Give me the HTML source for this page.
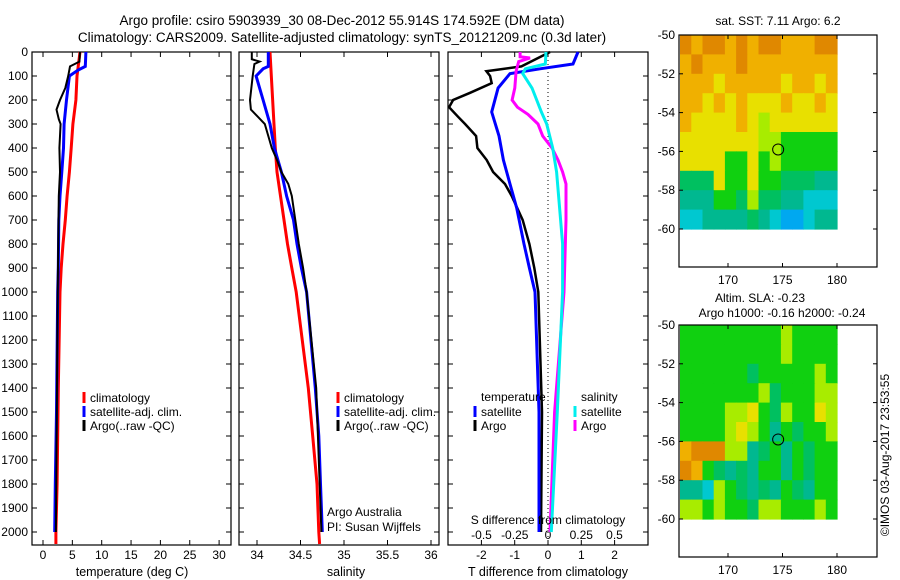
<!DOCTYPE html>
<html><head><meta charset="utf-8">
<style>
html,body{margin:0;padding:0;background:#fff;}
svg{display:block;font-family:"Liberation Sans",sans-serif;}
text{fill:#000;}
</style></head>
<body>
<svg id="fig" width="900" height="580" viewBox="0 0 900 580" xmlns="http://www.w3.org/2000/svg">
<text x="342" y="25" font-size="13.5" text-anchor="middle">Argo profile: csiro 5903939_30 08-Dec-2012 55.914S 174.592E (DM data)</text>
<text x="342" y="42" font-size="13.5" text-anchor="middle">Climatology: CARS2009. Satellite-adjusted climatology: synTS_20121209.nc (0.3d later)</text>
<g id="g"></g>
</svg>
<script>
// ---------- data ----------
const depthClim = [0,100,200,300,400,500,600,700,800,900,1000,1400,1800,2000,2050];
const tempClim  = [6.3,5.8,5.6,5.1,4.8,4.5,4.1,3.8,3.4,3.1,2.9,2.6,2.4,2.2,2.2];
const depthSat  = [0,60,75,100,200,300,400,500,600,700,900,1000,1500,1800,2000];
const tempSat   = [7.3,7.2,6.0,4.5,4.0,3.6,3.5,3.2,2.9,2.7,2.6,2.5,2.3,2.1,2.0];
const depthArgoT= [0,40,60,100,150,200,240,280,300,400,500,600,1000,2000];
const tempArgo  = [6.3,6.2,4.6,4.3,3.8,2.9,2.3,2.7,3.0,2.8,2.9,2.7,2.5,2.2];

const depthSalClim = [0,400,500,600,700,800,900,1000,1400,1600,1800,2000,2050];
const salClim      = [34.15,34.21,34.23,34.27,34.31,34.35,34.40,34.45,34.59,34.64,34.69,34.71,34.72];
const depthSalSat  = [0,60,70,100,200,300,400,500,600,700,800,900,1000,1400,1600,1800,2000];
const salSat       = [34.13,34.13,34.07,33.99,34.07,34.15,34.20,34.28,34.34,34.42,34.46,34.51,34.57,34.67,34.71,34.73,34.75];
const depthSalArgo = [0,30,40,50,100,200,240,270,300,350,400,450,500,550,600,700,800,900,1000,1400,2000];
const salArgo      = [33.94,33.94,34.03,33.97,33.95,33.92,33.93,34.01,34.09,34.13,34.17,34.23,34.28,34.36,34.40,34.44,34.48,34.53,34.57,34.68,34.74];

const depthDTArgo = [0,60,80,100,130,170,200,230,270,300,350,400,450,500,550,600,700,800,900,1000,1500,2000];
const dTArgo      = [0.06,-0.8,-1.85,-1.74,-1.69,-2.34,-2.85,-2.97,-2.7,-2.49,-2.16,-2.12,-1.84,-1.65,-1.29,-1.09,-0.76,-0.56,-0.41,-0.29,-0.18,-0.21];
const depthDTSat  = [0,50,70,90,150,250,350,450,550,650,800,900,1000,1500,2000];
const dTSat       = [0.9,0.75,-0.24,-1.14,-1.5,-1.69,-1.47,-1.34,-1.14,-0.94,-0.72,-0.56,-0.39,-0.27,-0.27];
const depthDSArgo = [0,20,25,40,80,150,200,230,260,300,350,400,450,500,550,700,1000,1500,2000];
const dSArgo      = [-0.21,-0.21,-0.135,-0.22,-0.24,-0.25,-0.27,-0.23,-0.15,-0.075,-0.04,0.03,0.075,0.11,0.135,0.135,0.12,0.05,0.015];
const depthDSSat  = [0,50,70,90,150,200,250,300,400,500,600,800,1000,1500,2000];
const dSSat       = [-0.015,-0.02,-0.17,-0.19,-0.12,-0.085,-0.05,-0.01,0.035,0.065,0.08,0.11,0.11,0.07,0.025];

const depthTicks = [0,100,200,300,400,500,600,700,800,900,1000,1100,1200,1300,1400,1500,1600,1700,1800,1900,2000];
const tempTicks = [0,5,10,15,20,25,30];
const salTicks = [34,34.5,35,35.5,36];
const salTickLabels = ["34","34.5","35","35.5","36"];
const dTTicks = [-2,-1,0,1,2];
const dSTicks = [-0.5,-0.25,0,0.25,0.5];
const dSTickLabels = ["-0.5","-0.25","0","0.25","0.5"];

const latTicks = [-50,-52,-54,-56,-58,-60];
const lonTicks = [170,175,180];
const sstRows = [
"98998989988899","89888988888888","88878888878878","88787877787787","87777876777777",
"77777776655555","77775575655555","44475575544433","33355464433222","22333343211233"];
const slaRows = [
"55555555565555","55555555565555","55555545555565","55555556455566","55556675465576",
"55556765354556","89996634535455","98543435535455","33265434354355","66565546655565"];
const floatLon = 174.6, floatLat = -55.9;
const palette = ["#1060ff","#00a8f0","#00c8d0","#00b890","#00c060","#10d010","#a8ec00","#e8e000","#f0b000","#e08800"];

// ---------- helpers ----------
const NS="http://www.w3.org/2000/svg";
const G=document.getElementById('g');
function mk(tag,attrs,parent){const e=document.createElementNS(NS,tag);for(const k in attrs)e.setAttribute(k,attrs[k]);(parent||G).appendChild(e);return e;}
function txt(x,y,s,size,anchor,parent){const t=mk('text',{x:x,y:y,'font-size':size,'text-anchor':anchor||'middle'},parent);t.textContent=s;return t;}
const yD=d=>52+d*0.24;
const xT=v=>43+v*5.87;
const xS=v=>257+(v-34)*87;
const xDT=v=>548+v*33.3;
const xDS=v=>548+v*133;

function line(xs,ds,xf,color,w,name){
  const pts=xs.map((v,i)=>xf(v).toFixed(1)+','+yD(ds[i]).toFixed(1)).join(' ');
  const p=mk('polyline',{points:pts,fill:'none',stroke:color,'stroke-width':w,'stroke-linejoin':'miter'});
  
  
}
function panel(x0,x1,name){
  const r=mk('rect',{x:x0,y:52,width:x1-x0,height:493,fill:'none',stroke:'#000','stroke-width':1.2});
  
  
  depthTicks.forEach(d=>{mk('line',{x1:x0,x2:x0+5,y1:yD(d),y2:yD(d),stroke:'#000'});mk('line',{x1:x1-5,x2:x1,y1:yD(d),y2:yD(d),stroke:'#000'});});
}
function xticks(vals,labels,xf,x0,x1,ylab){
  vals.forEach((v,i)=>{const x=xf(v);mk('line',{x1:x,x2:x,y1:52,y2:57,stroke:'#000'});mk('line',{x1:x,x2:x,y1:540,y2:545,stroke:'#000'});
    if(ylab){const t=txt(x,ylab,labels[i],12);}});
}
function legend(x,y,color,label){
  mk('line',{x1:x,x2:x,y1:y-10,y2:y+1,stroke:color,'stroke-width':3});
  const t=txt(x+6,y,label,12,'start');
  
  
}

// ---------- panel 1: temperature ----------
panel(32,231,'temperature-panel');
depthTicks.forEach(d=>{const t=txt(28,yD(d)+4,String(d),12,'end');});
xticks(tempTicks,tempTicks.map(String),xT,32,231,559);
line(tempClim,depthClim,xT,'#ff0000',3,'temp-climatology-line');
line(tempSat,depthSat,xT,'#0000ff',3,'temp-satellite-line');
line(tempArgo,depthArgoT,xT,'#000000',2,'temp-argo-line');
legend(84,402,'#ff0000','climatology');
legend(84,416,'#0000ff','satellite-adj. clim.');
legend(84,430,'#000000','Argo(..raw -QC)');
{const t=txt(132,576,'temperature (deg C)',12.5);}

// ---------- panel 2: salinity ----------
panel(239,439,'salinity-panel');
xticks(salTicks,salTickLabels,xS,239,439,559);
line(salClim,depthSalClim,xS,'#ff0000',3,'sal-climatology-line');
line(salSat,depthSalSat,xS,'#0000ff',3,'sal-satellite-line');
line(salArgo,depthSalArgo,xS,'#000000',2,'sal-argo-line');
legend(338,402,'#ff0000','climatology');
legend(338,416,'#0000ff','satellite-adj. clim.');
legend(338,430,'#000000','Argo(..raw -QC)');
{const t=txt(327,516,'Argo Australia',12,'start');}
{const t=txt(327,531,'PI: Susan Wijffels',12,'start');}
{const t=txt(346,576,'salinity',12.5);}

// ---------- panel 3: differences ----------
panel(448,648,'difference-panel');
mk('line',{x1:548,x2:548,y1:52,y2:545,stroke:'#000','stroke-dasharray':'1,3'});
xticks(dTTicks,dTTicks.map(String),xDT,448,648,559);
dSTicks.forEach((v,i)=>{const t=txt(xDS(v),539,dSTickLabels[i],12);});
line(dTArgo,depthDTArgo,xDT,'#000000',2.5,'tdiff-argo-line');
line(dTSat,depthDTSat,xDT,'#0000ff',3,'tdiff-satellite-line');
line(dSArgo,depthDSArgo,xDS,'#ff00ff',3,'sdiff-argo-line');
line(dSSat,depthDSSat,xDS,'#00eeee',3,'sdiff-satellite-line');
txt(481,401,'temperature',12,'start');
legend(475,416,'#0000ff','satellite');
legend(475,430,'#000000','Argo');
txt(581,401,'salinity',12,'start');
legend(575,416,'#00eeee','satellite');
legend(575,430,'#ff00ff','Argo');
{const t=txt(548,524,'S difference from climatology',12);}
{const t=txt(548,576,'T difference from climatology',12.5);}

// ---------- maps ----------
function map(top,rows,name){
  const L=679,R=877,B=top+232;
  const xL=lon=>728+(lon-170)*10.9;
  const yL=lat=>top+(-50-lat)*19.4;
  const lon0=165.6, dl=(180-lon0)/rows[0].length;
  rows.forEach((row,ri)=>{
    for(let ci=0;ci<row.length;ci++){
      const x=xL(lon0+ci*dl), y=yL(-50-ri);
      const c=mk('rect',{x:x.toFixed(1),y:y.toFixed(1),width:(dl*10.9+0.6).toFixed(1),height:(19.4+0.6).toFixed(1),fill:palette[+row[ci]]});
      
      
    }
  });
  const c=mk('circle',{cx:xL(floatLon),cy:yL(floatLat),r:5.5,fill:'none',stroke:'#000','stroke-width':1});
  
  
  const r=mk('rect',{x:L,y:top,width:R-L,height:B-top,fill:'none',stroke:'#000','stroke-width':1.2});
  
  
  latTicks.forEach(v=>{const y=yL(v);mk('line',{x1:L,x2:L+4,y1:y,y2:y,stroke:'#000'});mk('line',{x1:R-4,x2:R,y1:y,y2:y,stroke:'#000'});
    const t=txt(675,y+4,String(v),12,'end');});
  lonTicks.forEach(v=>{const x=xL(v);mk('line',{x1:x,x2:x,y1:top,y2:top+4,stroke:'#000'});mk('line',{x1:x,x2:x,y1:B-4,y2:B,stroke:'#000'});
    const t=txt(x,B+17,String(v),12);});
}
map(35,sstRows,'sst-map');
{const t=txt(778,25,'sat. SST: 7.11 Argo: 6.2',12);}
map(325,slaRows,'sla-map');
{const t=txt(760,302,'Altim. SLA: -0.23',12);}
{const t=txt(782,317,'Argo h1000: -0.16 h2000: -0.24',12);}
{const t=txt(0,0,'©IMOS 03-Aug-2017 23:53:55',12);t.setAttribute('transform','translate(889,455) rotate(-90)');}
</script>
</body></html>
